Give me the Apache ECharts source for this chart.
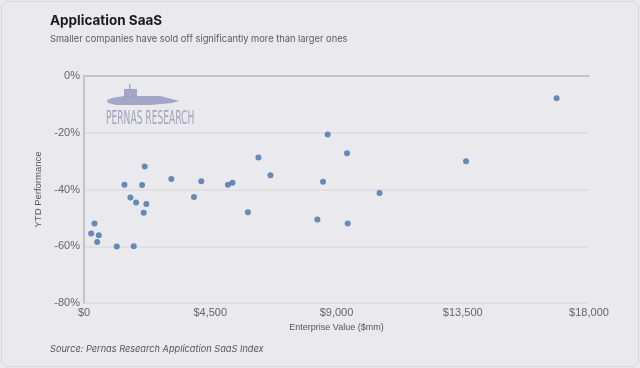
<!DOCTYPE html>
<html>
<head>
<meta charset="utf-8">
<script src="https://cdn.jsdelivr.net/npm/echarts@6/dist/echarts.min.js"></script>
<style>
html,body{margin:0;padding:0;background:#e9e8ed;}
#c{width:640px;height:368px;}
</style>
</head>
<body>
<div id="c"></div>
<script>
// Data (Enterprise Value $mm, YTD Performance %)
const enterpriseValue = [256, 374, 527, 470, 1167, 1441, 1654, 1857, 1772, 2070, 2127, 2223, 2163, 3113, 3920, 4180, 5129, 5293, 5841, 6218, 6645, 8687, 8520, 8318, 9374, 9398, 10536, 13618, 16845];
const ytdPerformance = [-55.5, -52.0, -56.1, -58.5, -60.1, -38.3, -42.8, -44.6, -60.0, -38.4, -48.2, -45.1, -31.9, -36.3, -42.6, -37.1, -38.3, -37.6, -48.0, -28.7, -35.0, -20.6, -37.3, -50.6, -27.2, -52.0, -41.2, -30.0, -7.8];
const xTicks = [0, 4500, 9000, 13500, 18000];
const yTicks = [0, -20, -40, -60, -80];

const points = enterpriseValue.map((v, i) => [v, ytdPerformance[i]]);
const chart = echarts.init(document.getElementById('c'), null, {renderer: 'canvas'});
const labelFont = '"Liberation Sans", Arial, sans-serif';
const wm = '#9c9ec2';
chart.setOption({
  backgroundColor: '#e9e8ed',
  animation: false,
  graphic: [
    {type: 'rect', left: 1, top: 1, shape: {width: 637, height: 365, r: 6}, style: {fill: '#eae9ee', stroke: '#d6d5da', lineWidth: 1}, z: -10},
    {type: 'text', left: 50, top: 14, style: {text: 'Application SaaS', font: 'bold 13.5px Inter, "Noto Sans", sans-serif', fill: '#1a1a1a'}},
    {type: 'text', left: 50, top: 35, style: {text: 'Smaller companies have sold off significantly more than larger ones', font: '9.3px Inter, "Noto Sans", sans-serif', fill: '#5a5a5a'}},
    {type: 'text', left: 50, top: 345, style: {text: 'Source: Pernas Research Application SaaS Index', font: 'italic 9.2px Inter, "Noto Sans", sans-serif', fill: '#555'}},
    // watermark
    {type: 'polygon', shape: {points: [[112, 98], [124, 96], [160, 96], [172, 99], [179, 101], [172, 103], [150, 105], [116, 105], [108, 103], [107, 100]]}, style: {fill: wm, opacity: 0.9}, z: 1},
    {type: 'rect', shape: {x: 124, y: 89, width: 13, height: 8}, style: {fill: wm, opacity: 0.9}, z: 1},
    {type: 'rect', shape: {x: 129, y: 84, width: 1.5, height: 6}, style: {fill: wm, opacity: 0.9}, z: 1},
    {type: 'text', x: 106, y: 110, scaleX: 0.48, scaleY: 1, originX: 0, originY: 0, style: {text: 'PERNAS RESEARCH', font: '19px "DejaVu Sans", sans-serif', fill: '#9a9cb6', opacity: 0.9}, z: 1}
  ],
  grid: {left: 84, right: 51, top: 76, bottom: 65, containLabel: false},
  xAxis: {
    type: 'value', min: xTicks[0], max: xTicks[xTicks.length - 1], interval: 4500,
    name: 'Enterprise Value ($mm)', nameLocation: 'middle', nameGap: 14,
    nameTextStyle: {color: '#555', fontSize: 9, fontFamily: labelFont},
    axisLine: {show: true, lineStyle: {color: '#c4c3c9', width: 2}},
    axisTick: {show: false},
    splitLine: {show: false},
    axisLabel: {color: '#666', fontSize: 11, fontFamily: labelFont, margin: 4,
      formatter: v => '$' + v.toLocaleString('en-US')}
  },
  yAxis: {
    type: 'value', min: yTicks[yTicks.length - 1], max: yTicks[0], interval: 20,
    name: 'YTD Performance', nameLocation: 'middle', nameGap: 41, nameRotate: 90,
    nameTextStyle: {color: '#555', fontSize: 9.5, fontFamily: labelFont},
    axisLine: {show: true, lineStyle: {color: '#c4c3c9', width: 2}},
    axisTick: {show: false},
    splitLine: {show: true, lineStyle: {color: '#dcdbe0', width: 1.5}},
    axisLabel: {color: '#666', fontSize: 11, fontFamily: labelFont, margin: 4,
      formatter: v => v + '%'}
  },
  series: [{
    type: 'scatter', data: points, symbolSize: 6,
    itemStyle: {color: '#4472a8'}, z: 5
  }]
});
</script>
</body>
</html>
